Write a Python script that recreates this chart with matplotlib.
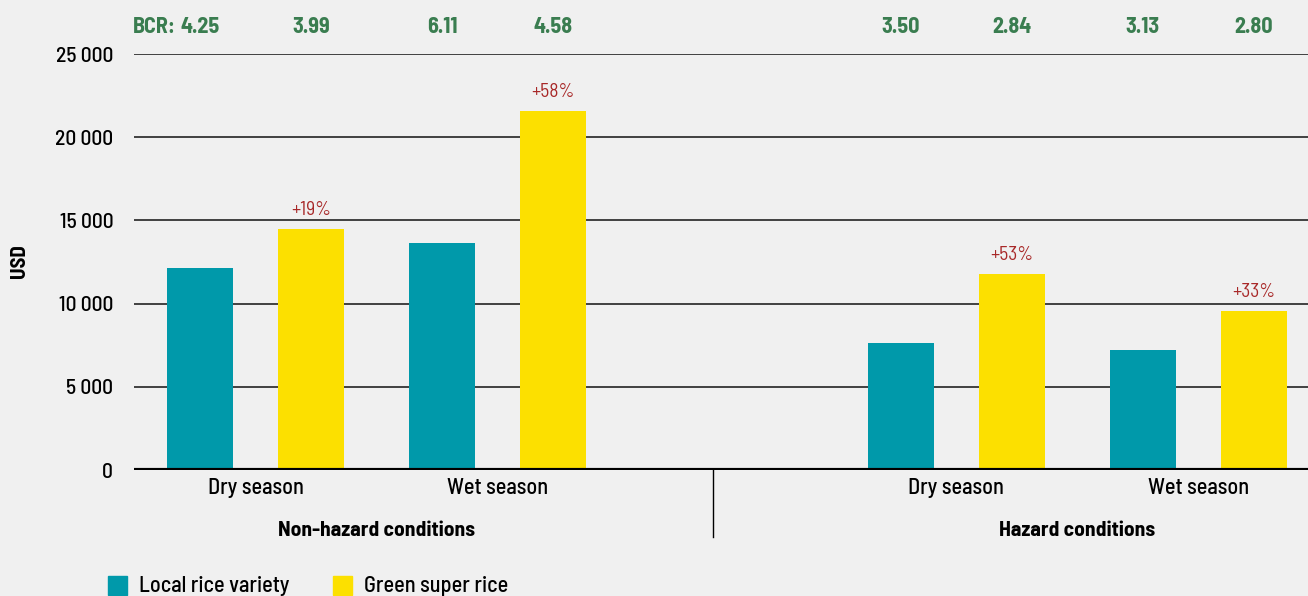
import numpy as np
import matplotlib.pyplot as plt
from matplotlib.patches import Rectangle
from matplotlib.ticker import FuncFormatter
import matplotlib.transforms as mtransforms

plt.rcParams['font.family'] = ['Barlow Semi Condensed', 'DejaVu Sans']
plt.rcParams['font.weight'] = 500

# data
groups = ['Non-hazard conditions', 'Hazard conditions']
seasons = ['Dry season', 'Wet season', 'Dry season', 'Wet season']
local = [12150, 13650, 7650, 7200]
gsr = [14500, 21600, 11800, 9550]
bcr_local = ['4.25', '6.11', '3.50', '3.13']
bcr_gsr = ['3.99', '4.58', '2.84', '2.80']
pct = ['+19%', '+58%', '+53%', '+33%']
series_names = ['Local rice variety', 'Green super rice']

teal = '#0099aa'
yellow = '#fce000'
bg = '#f0f0f0'
green = '#3a7d50'
red = '#a82828'

# layout (one unit = distance between the two bars of a pair)
pos = np.array([0, 2.18, 6.31, 8.49])
w = 0.595
sep_x = 4.12

fig = plt.figure(figsize=(13.08, 5.96), dpi=100, facecolor=bg)
ax = fig.add_axes([134/1308, 1-470/596, 1-134/1308, (470-54)/596])
ax.set_facecolor(bg)

ax.set_ylim(0, 25000)
ax.set_xlim(-1.095, 9.48)
ax.set_yticks(np.arange(0, 25001, 5000))
ax.yaxis.set_major_formatter(FuncFormatter(lambda v, p: f'{int(v):,}'.replace(',', ' ')))
ax.tick_params(axis='y', length=0, pad=15, labelsize=15.5)
ax.set_xticks([])
for s in ax.spines.values():
    s.set_visible(False)
for v in np.arange(5000, 25001, 5000):
    ax.axhline(v, color='#333333', lw=1.3, zorder=1)
ax.axhline(0, color='black', lw=3, zorder=4)

ax.bar(pos - 0.5, local, w, color=teal, zorder=3)
ax.bar(pos + 0.5, gsr, w, color=yellow, zorder=3)

for i in range(len(pos)):
    ax.annotate(pct[i], (pos[i] + 0.5, gsr[i]), xytext=(0, 19), textcoords='offset pixels',
                ha='center', va='center', color=red, fontsize=14, fontweight=400)
    ax.annotate(seasons[i], (pos[i], 0), xytext=(0, -18), textcoords='offset pixels',
                ha='center', va='center', fontsize=16)

tb = mtransforms.blended_transform_factory(ax.transData, fig.transFigure)
ytop = 1 - 27/596
nums = []
for i in range(len(pos)):
    nums.append(ax.text(pos[i] - 0.5, ytop, bcr_local[i], transform=tb, ha='center', va='center',
                        color=green, fontsize=16, fontweight='bold'))
    ax.text(pos[i] + 0.5, ytop, bcr_gsr[i], transform=tb, ha='center', va='center',
            color=green, fontsize=16, fontweight='bold')
ax.annotate('BCR:', (0, 0.5), xycoords=nums[0], xytext=(-5, 0),
            textcoords='offset pixels', ha='right', va='center',
            color=green, fontsize=16, fontweight='bold')

yg = 1 - 530/596
ax.text((pos[0] + pos[1]) / 2, yg, groups[0], transform=tb, ha='center', va='center',
        fontsize=15.5, fontweight='bold')
ax.text((pos[2] + pos[3]) / 2, yg, groups[1], transform=tb, ha='center', va='center',
        fontsize=15.5, fontweight='bold')
ax.plot([sep_x, sep_x], [1 - 470/596, 1 - 537/596], transform=tb, color='black',
        lw=1, clip_on=False)

fig.text(20/1308, 1 - 261/596, 'USD', rotation=90, ha='center', va='center',
         fontsize=15, fontweight='bold')

# legend
leg_x = [108, 333]
for x, name, c in zip(leg_x, series_names, [teal, yellow]):
    fig.patches.append(Rectangle((x/1308, 1 - 595/596), 19/1308, 19/596,
                                 transform=fig.transFigure, color=c))
    fig.text((x + 31)/1308, 1 - 586/596, name, ha='left', va='center', fontsize=16)

fig.savefig('out.png', dpi=100, facecolor=bg)
